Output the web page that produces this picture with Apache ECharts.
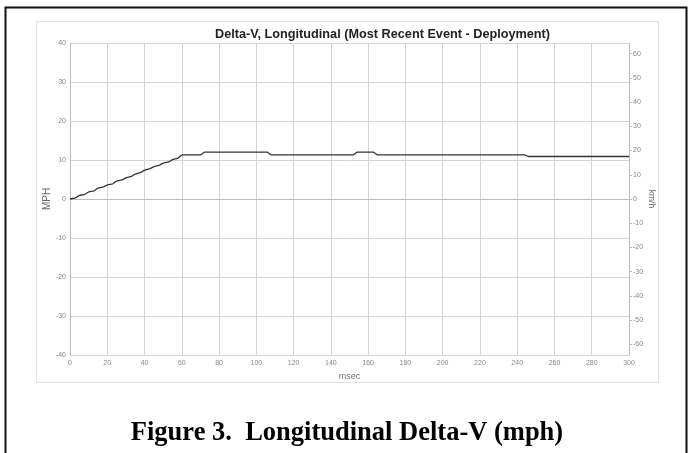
<!DOCTYPE html>
<html>
<head>
<meta charset="utf-8">
<script src="https://cdn.jsdelivr.net/npm/echarts@6/dist/echarts.min.js"></script>
<style>html,body{margin:0;padding:0;background:#fff;}#c{width:694px;height:453px;}</style>
</head>
<body>
<div id="c"></div>
<script>
var msec = [0,3,5,8,10,13,15,18,20,23,25,28,30,33,35,38,40,43,45,48,50,53,55,58,60,70,72,106,108,152,154,163,165,244,246,300];
var mph  = [0,0.3,0.9,1.2,1.8,2.1,2.8,3.1,3.6,3.9,4.6,4.9,5.4,5.8,6.4,6.8,7.4,7.8,8.3,8.7,9.2,9.5,10.1,10.5,11.3,11.3,12.0,12.0,11.3,11.3,12.0,12.0,11.3,11.3,10.9,10.9];
var xTicks = [0,20,40,60,80,100,120,140,160,180,200,220,240,260,280,300];
var mphTicks = [-40,-30,-20,-10,0,10,20,30,40];
var kmhTicks = [-60,-50,-40,-30,-20,-10,0,10,20,30,40,50,60];

var chart = echarts.init(document.getElementById('c'));
var data = msec.map(function(t,i){return [t, mph[i]];});
var kmhMax = 40 * 1.609344;
var lab = {color:'#888', fontSize:7, fontFamily:'Liberation Sans, Arial'};
chart.setOption({
  animation:false,
  backgroundColor:'#fff',
  title:{text:'Delta-V, Longitudinal (Most Recent Event - Deployment)', left:210, top:23,
    textStyle:{fontFamily:'Liberation Sans, Arial', fontWeight:'bold', fontSize:12.7, color:'#222'}},
  grid:{left:70, right:65, top:43, bottom:98},
  xAxis:{type:'value', min:0, max:300, interval:20,
    name:'msec', nameLocation:'middle', nameGap:17,
    nameTextStyle:{color:'#777', fontSize:9, fontFamily:'Liberation Sans, Arial'},
    axisLine:{lineStyle:{color:'#bbb'}}, axisTick:{show:false},
    axisLabel:Object.assign({margin:5}, lab),
    splitLine:{show:true, lineStyle:{color:'#d4d4d4', width:1}}},
  yAxis:[
    {type:'value', min:-40, max:40, interval:10, position:'left',
     name:'MPH', nameLocation:'middle', nameGap:18, nameRotate:90, nameMoveOverlap:false,
     nameTextStyle:{color:'#666', fontSize:10, fontFamily:'Liberation Sans, Arial'},
     axisLine:{show:true, lineStyle:{color:'#bbb'}}, axisTick:{show:false},
     axisLabel:Object.assign({margin:4}, lab),
     splitLine:{show:true, lineStyle:{color:'#d4d4d4', width:1}}},
    {type:'value', min:-kmhMax, max:kmhMax, splitNumber:12, position:'right',
     name:'km/h', nameLocation:'middle', nameGap:18, nameRotate:-90, nameMoveOverlap:false,
     nameTextStyle:{color:'#666', fontSize:8.5, fontFamily:'Liberation Sans, Arial'},
     axisLine:{show:true, lineStyle:{color:'#bbb'}},
     axisTick:{show:true, length:3, lineStyle:{color:'#bbb'}},
     axisLabel:Object.assign({margin:4, showMinLabel:false, showMaxLabel:false,
       formatter:function(v){ return kmhTicks.indexOf(Math.round(v))>=0 && Math.abs(v-Math.round(v))<1e-6 ? String(Math.round(v)) : ''; }}, lab),
     splitLine:{show:false}}
  ],
  series:[{type:'line', data:data, showSymbol:false, yAxisIndex:0,
    lineStyle:{color:'#333', width:1.3}}],
  graphic:[
    {type:'rect', shape:{x:5.5, y:7.5, width:681, height:460}, style:{fill:'none', stroke:'#111', lineWidth:2}, silent:true, z:-1},
    {type:'rect', shape:{x:36.5, y:21.5, width:622, height:361}, style:{fill:'none', stroke:'#e2e2e2', lineWidth:1}, silent:true, z:-1},
    {type:'text', left:'center', top:420, style:{text:'Figure 3.  Longitudinal Delta-V (mph)', fontFamily:'Liberation Serif, Times New Roman', fontWeight:'bold', fontSize:26.5, fill:'#000'}}
  ]
});
</script>
</body>
</html>
